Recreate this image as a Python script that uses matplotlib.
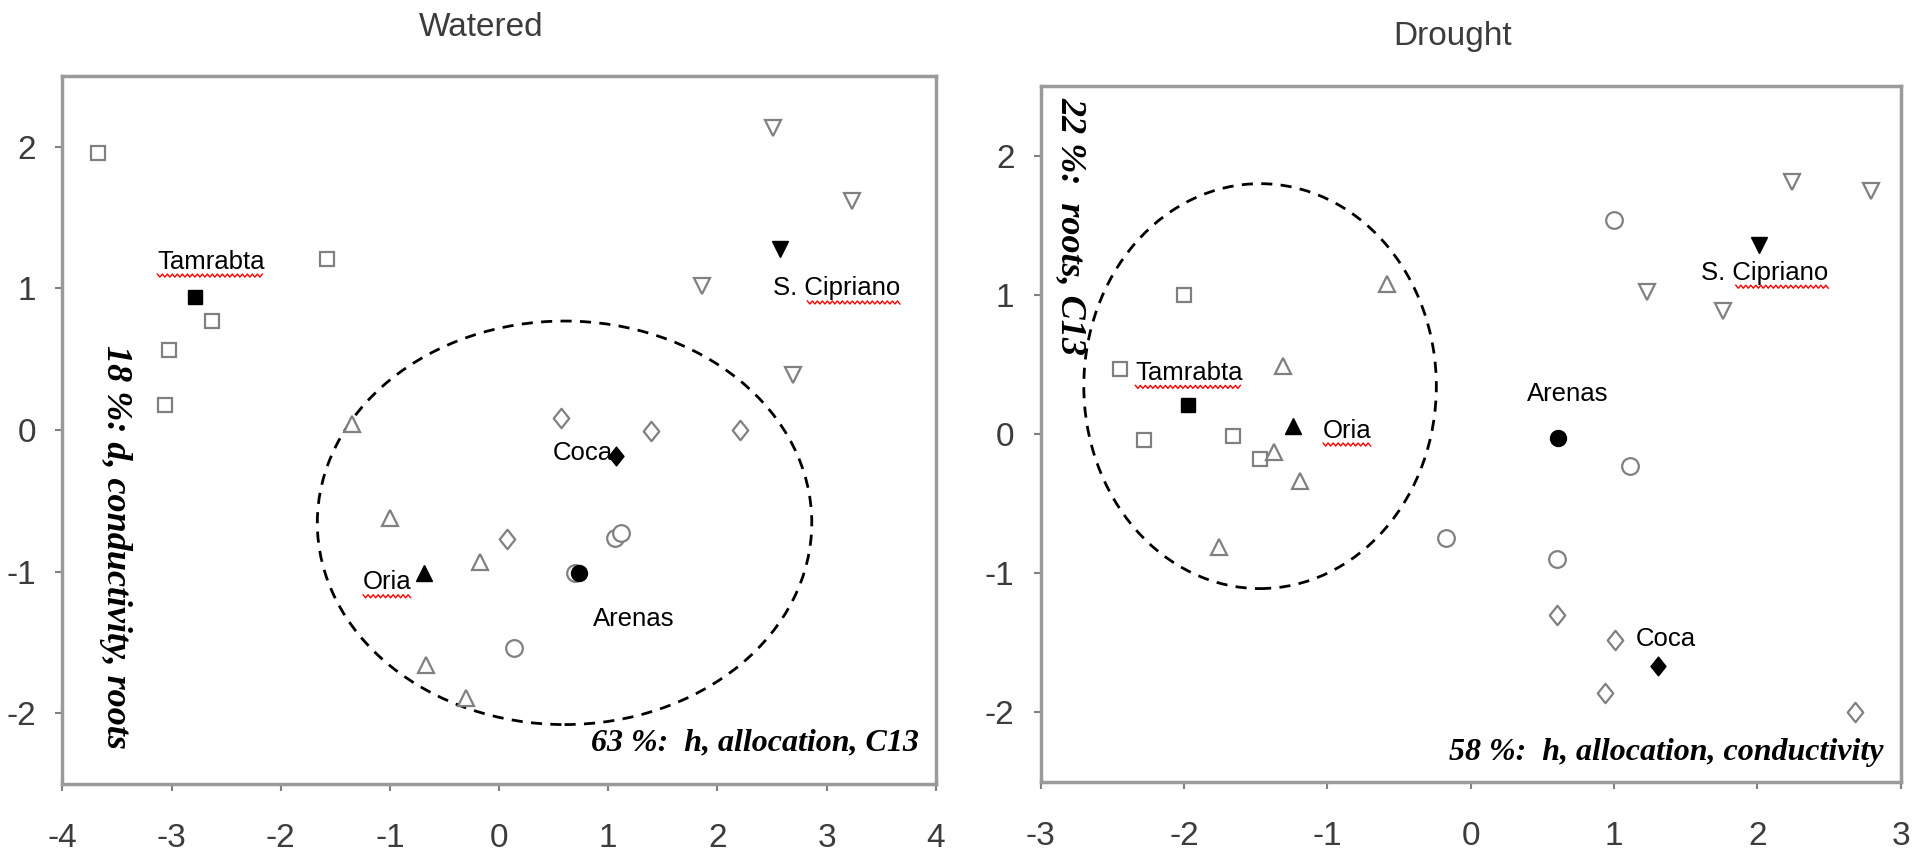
import matplotlib
matplotlib.use("Agg")
import matplotlib.pyplot as plt
from matplotlib.patches import Ellipse
from matplotlib.path import Path
from matplotlib.lines import Line2D
from matplotlib.transforms import IdentityTransform
import numpy as np

# ---------------- data ----------------
populations = ["Tamrabta", "S. Cipriano", "Coca", "Oria", "Arenas"]

# Watered panel: individual (open) points
w_tam_x = [-3.67, -1.58, -2.63, -3.02, -3.06]
w_tam_y = [1.96, 1.21, 0.77, 0.565, 0.18]
w_cip_x = [2.51, 3.23, 1.86, 2.69]
w_cip_y = [2.13, 1.62, 1.02, 0.39]
w_coca_x = [0.57, 1.39, 2.21, 0.07]
w_coca_y = [0.087, -0.01, 0.0, -0.77]
w_oria_x = [-1.35, -1.0, -0.17, -0.67, -0.30]
w_oria_y = [0.04, -0.62, -0.93, -1.66, -1.89]
w_aren_x = [1.06, 1.12, 0.14, 0.70]
w_aren_y = [-0.76, -0.73, -1.54, -1.01]
# Watered population means (filled)
w_mean_x = [-2.79, 2.57, 1.07, -0.69, 0.73]
w_mean_y = [0.94, 1.28, -0.18, -1.01, -1.01]

# Drought panel
d_tam_x = [-2.0, -2.45, -2.28, -1.66, -1.47]
d_tam_y = [1.0, 0.465, -0.045, -0.01, -0.18]
d_cip_x = [2.24, 2.79, 1.23, 1.76]
d_cip_y = [1.81, 1.75, 1.02, 0.885]
d_coca_x = [0.60, 1.01, 0.94, 2.68]
d_coca_y = [-1.30, -1.48, -1.86, -2.0]
d_oria_x = [-0.585, -1.31, -1.37, -1.19, -1.76]
d_oria_y = [1.08, 0.49, -0.125, -0.34, -0.81]
d_aren_x = [1.0, 1.11, -0.17, 0.60]
d_aren_y = [1.54, -0.23, -0.75, -0.90]
d_mean_x = [-1.97, 2.01, 1.31, -1.24, 0.61]
d_mean_y = [0.21, 1.36, -1.67, 0.055, -0.03]

# label anchor positions (data coords)
w_lab_x = [-3.13, 2.51, 1.04, -0.80, 1.236]
w_lab_y = [1.19, 1.0, -0.16, -1.075, -1.335]
w_lab_ha = ["left", "left", "right", "right", "center"]
d_lab_x = [-2.34, 1.61, 1.154, -1.03, 0.675]
d_lab_y = [0.44, 1.16, -1.473, 0.026, 0.285]
d_lab_ha = ["left", "left", "left", "left", "center"]

# dashed ellipses: center x, center y, width, height
w_ellipse = (0.60, -0.655, 4.53, 2.85)
d_ellipse = (-1.47, 0.345, 2.46, 2.91)

titles = ["Watered", "Drought"]
w_xlab = "63 %:  h, allocation, C13"
w_ylab = "18 %: d, conductivity, roots"
d_xlab = "58 %:  h, allocation, conductivity"
d_ylab = "22 %:  roots, C13"

w_xticks = [-4, -3, -2, -1, 0, 1, 2, 3, 4]
d_xticks = [-3, -2, -1, 0, 1, 2, 3]
yticks = [-2, -1, 0, 1, 2]

# ---------------- style ----------------
diamond = Path([(0, 1), (0.8, 0), (0, -1), (-0.8, 0), (0, 1)],
               [Path.MOVETO, Path.LINETO, Path.LINETO, Path.LINETO, Path.CLOSEPOLY])
pop_markers = ["s", "v", diamond, "^", "o"]
pop_ms = [10.5, 12, 14, 12, 12]
grey = "#808080"
sans = ["Liberation Sans", "DejaVu Sans"]
serif = ["Liberation Serif", "DejaVu Serif"]

fig = plt.figure(figsize=(19.15, 8.55), dpi=100)
axL = fig.add_axes([0.0326, 0.083, 0.456, 0.828])
axR = fig.add_axes([0.5435, 0.0854, 0.449, 0.8137])


def draw_panel(ax, groups, mx, my, ell, xticks, xlim, labx, laby, labha):
    for (gx, gy), mk, ms in zip(groups, pop_markers, pop_ms):
        ax.plot(gx, gy, linestyle="none", marker=mk, ms=ms, mfc="white",
                mec=grey, mew=1.6, zorder=3)
    texts = []
    for i in range(len(populations)):
        ax.plot([mx[i]], [my[i]], linestyle="none", marker=pop_markers[i],
                ms=pop_ms[i] - 0.5, mfc="black", mec="black", mew=1, zorder=4)
        t = ax.text(labx[i], laby[i], populations[i], ha=labha[i], va="center",
                    fontsize=18.5, family=sans, color="black", zorder=5)
        texts.append(t)
    e = Ellipse((ell[0], ell[1]), ell[2], ell[3], fill=False, ec="black",
                lw=2, linestyle=(0, (4, 3)), zorder=2)
    ax.add_patch(e)
    ax.set_xlim(*xlim)
    ax.set_ylim(-2.5, 2.5)
    ax.set_xticks(xticks)
    ax.set_yticks(yticks)
    ax.set_xticklabels([str(v) for v in xticks], family=sans)
    ax.set_yticklabels([str(v) for v in yticks], family=sans)
    ax.tick_params(axis="both", direction="out", length=5, width=1.5,
                   color=grey, labelsize=24, labelcolor="#3c3c3c")
    ax.tick_params(axis="x", pad=23)
    ax.tick_params(axis="y", pad=14)
    for s in ax.spines.values():
        s.set_color("#9a9a9a")
        s.set_linewidth(2.5)
    return texts


txL = draw_panel(axL,
                 [(w_tam_x, w_tam_y), (w_cip_x, w_cip_y), (w_coca_x, w_coca_y),
                  (w_oria_x, w_oria_y), (w_aren_x, w_aren_y)],
                 w_mean_x, w_mean_y, w_ellipse, w_xticks, (-4, 4),
                 w_lab_x, w_lab_y, w_lab_ha)
txR = draw_panel(axR,
                 [(d_tam_x, d_tam_y), (d_cip_x, d_cip_y), (d_coca_x, d_coca_y),
                  (d_oria_x, d_oria_y), (d_aren_x, d_aren_y)],
                 d_mean_x, d_mean_y, d_ellipse, d_xticks, (-3, 3),
                 d_lab_x, d_lab_y, d_lab_ha)

# axis annotations
axL.text(3.85, -2.21, w_xlab, ha="right", va="center", fontsize=23,
         family=serif, style="italic", weight="bold")
axL.text(-3.51, -0.825, w_ylab, ha="center", va="center", rotation=270,
         fontsize=26, family=serif, style="italic", weight="bold")
axR.text(2.88, -2.29, d_xlab, ha="right", va="center", fontsize=23,
         family=serif, style="italic", weight="bold")
axR.text(-2.79, 2.42, d_ylab, ha="center", va="top", rotation=270,
         fontsize=26, family=serif, style="italic", weight="bold")

# titles
fig.text(481 / 1915, 1 - 27 / 855, titles[0], ha="center", va="center",
         fontsize=24, family=sans, color="#3c3c3c")
fig.text(1453 / 1915, 1 - 36 / 855, titles[1], ha="center", va="center",
         fontsize=24, family=sans, color="#3c3c3c")

# red spell-check squiggles under some labels
fig.canvas.draw()
renderer = fig.canvas.get_renderer()


def squiggle(t, start_frac=0.0):
    bb = t.get_window_extent(renderer)
    x0 = bb.x0 + bb.width * start_frac
    x1 = bb.x1
    xs = np.arange(x0, x1, 2.5)
    ys = bb.y0 - 2 + np.where(np.arange(len(xs)) % 2 == 0, 1.5, -1.5)
    fig.add_artist(Line2D(xs, ys, transform=IdentityTransform(), color="red",
                          lw=1.0, zorder=10))


for txs in (txL, txR):
    squiggle(txs[0])
    squiggle(txs[1], 0.27)
    squiggle(txs[3])

fig.savefig("out.png", dpi=100)
